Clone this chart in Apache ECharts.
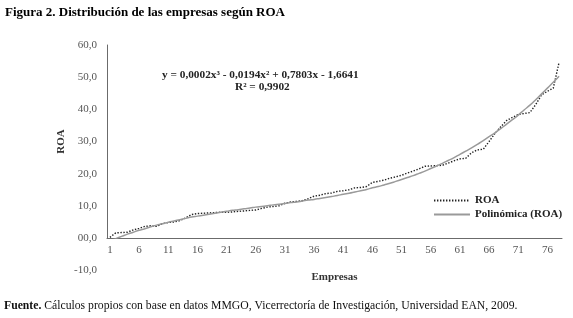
<!DOCTYPE html>
<html>
<head>
<meta charset="utf-8">
<script src="https://cdn.jsdelivr.net/npm/echarts@6/dist/echarts.min.js"></script>
<style>
html,body{margin:0;padding:0;background:#fff;}
#chart{width:573px;height:318px;}
</style>
</head>
<body>
<div id="chart"></div>
<script>
// Categories: firms 1..78
var empresas = [];
for (var i = 1; i <= 78; i++) empresas.push(String(i));

var roa = [0.2,1.6,1.7,1.8,2.5,3.0,3.6,3.8,3.6,4.5,
           4.8,5.0,5.4,6.3,7.3,7.6,7.7,7.8,7.9,8.0,
           8.0,8.1,8.3,8.4,8.6,8.7,9.2,9.6,9.8,10.0,
           10.8,11.2,11.4,11.6,12.2,13.0,13.3,13.8,14.0,14.5,
           14.7,15.0,15.6,15.7,16.0,17.3,17.6,18.0,18.6,19.0,
           19.5,20.2,20.8,21.5,22.3,22.4,22.5,22.6,23.3,24.0,
           24.6,24.8,26.5,27.4,27.6,30.0,32.5,34.6,36.5,37.5,
           38.4,38.7,39.0,41.5,44.5,45.6,46.6,54.6];

// Polynomial trend
var poli = [-0.9,-0.2,0.5,1.2,1.8,2.4,2.9,3.5,4.0,4.4,
            4.9,5.3,5.7,6.1,6.5,6.8,7.1,7.4,7.7,8.0,
            8.3,8.6,8.8,9.1,9.3,9.6,9.8,10.0,10.3,10.5,
            10.7,11.0,11.2,11.5,11.8,12.0,12.3,12.6,12.9,13.2,
            13.6,13.9,14.3,14.7,15.1,15.6,16.0,16.5,17.0,17.6,
            18.2,18.8,19.4,20.1,20.8,21.6,22.4,23.2,24.1,25.0,
            26.0,27.0,28.0,29.1,30.3,31.5,32.7,34.0,35.4,36.8,
            38.2,39.8,41.3,43.0,44.8,46.6,48.4,50.3];

var titulo = 'Figura 2. Distribución de las empresas según ROA';
var ecuacion = 'y = 0,0002x³ - 0,0194x² + 0,7803x - 1,6641';
var r2 = 'R² = 0,9902';

var serif = '"Liberation Serif", "Times New Roman", serif';
function fmt(v){ return v === 0 ? '00,0' : v.toFixed(1).replace('.', ','); }

var chart = echarts.init(document.getElementById('chart'));
chart.setOption({
  backgroundColor: '#fff',
  animation: false,
  title: {
    text: titulo, left: 0, top: 1,
    textStyle: {fontFamily: serif, fontSize: 13, fontWeight: 'bold', color: '#000'}
  },
  legend: {
    orient: 'vertical', left: 428, top: 190, itemWidth: 36, itemHeight: 8, itemGap: 3,
    itemStyle: {opacity: 0},
    textStyle: {fontFamily: serif, fontSize: 11, fontWeight: 'bold', color: '#222'},
    data: ['ROA', 'Polinómica (ROA)']
  },
  graphic: [
    {type: 'text', left: 162, top: 70, style: {text: ecuacion, font: 'bold 11.3px ' + serif, fill: '#222'}},
    {type: 'text', left: 235, top: 82, style: {text: r2, font: 'bold 11.3px ' + serif, fill: '#222'}},
    {type: 'text', left: 4, top: 300, style: {
      text: '{b|Fuente.} Cálculos propios con base en datos MMGO, Vicerrectoría de Investigación, Universidad EAN, 2009.',
      font: '11.7px ' + serif, fill: '#111',
      rich: {b: {fontWeight: 'bold', fontFamily: serif, fontSize: 11.7, fill: '#111'}}
    }}
  ],
  grid: [
    {left: 107, right: 11, top: 45, height: 193},
    {left: 107, right: 11, top: 238, height: 32}
  ],
  xAxis: [
    {
      type: 'category', gridIndex: 0, data: empresas, boundaryGap: true,
      axisLine: {lineStyle: {color: '#6b6b6b', width: 1}},
      axisTick: {show: false},
      axisLabel: {interval: 4, margin: 7, fontFamily: serif, fontSize: 11, color: '#555'},
      name: 'Empresas', nameLocation: 'middle', nameGap: 34,
      nameTextStyle: {fontFamily: serif, fontSize: 11, fontWeight: 'bold', color: '#333'}
    },
    {type: 'category', gridIndex: 1, data: empresas, show: false}
  ],
  yAxis: [
    {
      type: 'value', gridIndex: 0, min: 0, max: 60, interval: 10,
      axisLine: {show: true, lineStyle: {color: '#6b6b6b', width: 1}},
      axisTick: {show: false},
      splitLine: {show: false},
      axisLabel: {margin: 10, fontFamily: serif, fontSize: 11, color: '#555', formatter: fmt},
      name: 'ROA', nameLocation: 'middle', nameGap: 36,
      nameTextStyle: {fontFamily: serif, fontSize: 11, fontWeight: 'bold', color: '#333'}
    },
    {
      type: 'value', gridIndex: 1, min: -10, max: 0, interval: 10,
      axisLine: {show: false}, axisTick: {show: false}, splitLine: {show: false},
      axisLabel: {margin: 10, fontFamily: serif, fontSize: 11, color: '#555',
        formatter: function(v){ return v === -10 ? fmt(v) : ''; }}
    }
  ],
  series: [
    {
      name: 'ROA', type: 'line', xAxisIndex: 0, yAxisIndex: 0, data: roa,
      symbol: 'none', showSymbol: false,
      lineStyle: {color: '#222', width: 1.4, type: [1.4, 1.6]},
      itemStyle: {color: '#222'}
    },
    {
      name: 'Polinómica (ROA)', type: 'line', xAxisIndex: 0, yAxisIndex: 0, data: poli,
      symbol: 'none', showSymbol: false, smooth: true,
      lineStyle: {color: '#9a9a9a', width: 1.5},
      itemStyle: {color: '#9a9a9a'}
    }
  ]
});
</script>
</body>
</html>
